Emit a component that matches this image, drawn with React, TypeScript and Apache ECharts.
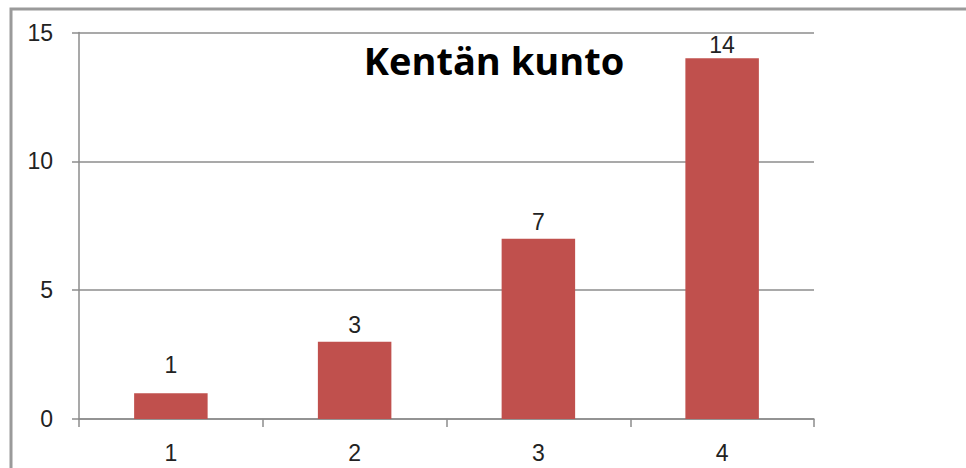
import React, { useEffect, useRef } from "react";
import * as echarts from "echarts";

const categories = ["1", "2", "3", "4"];
const values = [1, 3, 7, 14];
const yTicks = { min: 0, max: 15, interval: 5 };
const titleText = "Kentän kunto";

export default function App() {
  const ref = useRef<HTMLDivElement>(null);
  useEffect(() => {
    if (!ref.current) return;
    const chart = echarts.init(ref.current, undefined, { renderer: "svg" });
    const labelDistances = [17, 5, 5, 2];
    chart.setOption({
      animation: false,
      backgroundColor: "#ffffff",
      title: {
        text: titleText,
        left: 489,
        top: 36,
        textAlign: "center",
        textStyle: {
          fontFamily: "Open Sans",
          fontWeight: "bold",
          fontSize: 38,
          color: "#000000",
        },
      },
      graphic: [
        {
          type: "rect",
          shape: { x: 11, y: 9, width: 1100, height: 600 },
          style: { fill: "none", stroke: "#9a9a9a", lineWidth: 3 },
          silent: true,
          z: 100,
        },
      ],
      grid: { left: 79, right: 152, top: 32.5, bottom: 49, containLabel: false },
      xAxis: {
        type: "category",
        data: categories,
        axisLine: { show: true, lineStyle: { color: "#8c8c8c", width: 1.5 } },
        axisTick: { show: true, length: 8, lineStyle: { color: "#8c8c8c", width: 1.5 } },
        axisLabel: {
          margin: 22,
          fontFamily: "Liberation Sans",
          fontSize: 23,
          color: "#222222",
        },
      },
      yAxis: {
        type: "value",
        min: yTicks.min,
        max: yTicks.max,
        interval: yTicks.interval,
        axisLine: { show: true, lineStyle: { color: "#8c8c8c", width: 1.5 } },
        axisTick: { show: true, length: 7, lineStyle: { color: "#8c8c8c", width: 1.5 } },
        splitLine: { show: true, lineStyle: { color: "#8c8c8c", width: 1.5 } },
        axisLabel: {
          margin: 26,
          fontFamily: "Liberation Sans",
          fontSize: 23,
          color: "#222222",
        },
      },
      series: [
        {
          type: "bar",
          data: values.map((v, i) => ({
            value: v,
            label: { distance: labelDistances[i] },
          })),
          barWidth: "40%",
          itemStyle: { color: "#C0504D" },
          label: {
            show: true,
            position: "top",
            distance: 4,
            fontFamily: "Liberation Sans",
            fontSize: 23,
            color: "#222222",
          },
        },
      ],
    });
    return () => chart.dispose();
  }, []);
  return (
    <div
      ref={ref}
      style={{ position: "fixed", left: 0, top: 0, width: 966, height: 468 }}
    />
  );
}
